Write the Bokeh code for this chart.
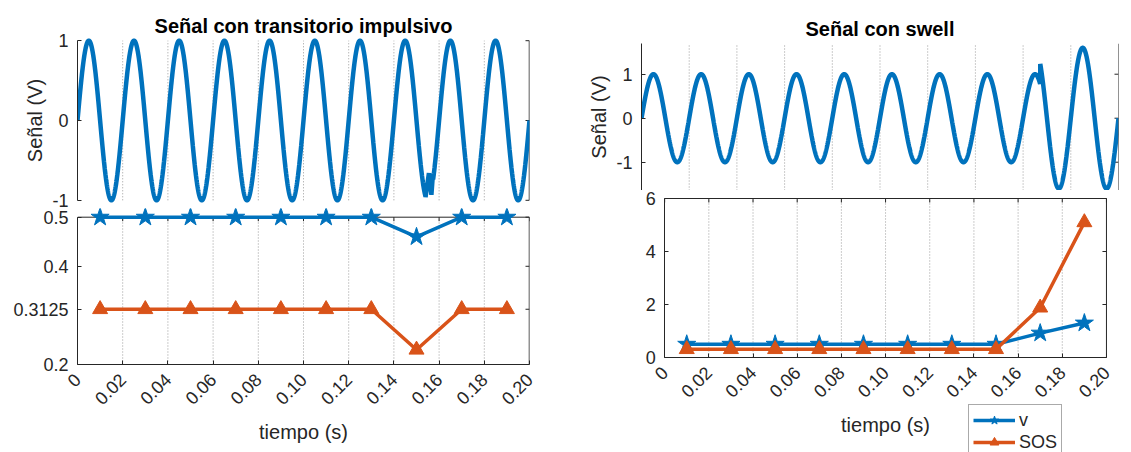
import math
import numpy as np
from bokeh.plotting import figure
from bokeh.layouts import row, column
from bokeh.models import Range1d, FixedTicker, Span, Legend, LegendItem
from bokeh.embed import file_html
from bokeh.resources import INLINE

# ---------------- data ----------------
tick_vals = [0.0, 0.02, 0.04, 0.06, 0.08, 0.10, 0.12, 0.14, 0.16, 0.18, 0.20]
tick_labels = ["0", "0.02", "0.04", "0.06", "0.08", "0.10", "0.12", "0.14", "0.16", "0.18", "0.20"]

t_win = [0.01, 0.03, 0.05, 0.07, 0.09, 0.11, 0.13, 0.15, 0.17, 0.19]
v_imp = [0.5, 0.5, 0.5, 0.5, 0.5, 0.5, 0.5, 0.46, 0.5, 0.5]
sos_imp = [0.3125, 0.3125, 0.3125, 0.3125, 0.3125, 0.3125, 0.3125, 0.23, 0.3125, 0.3125]
v_swell = [0.5, 0.5, 0.5, 0.5, 0.5, 0.5, 0.5, 0.5, 0.92, 1.30]
sos_swell = [0.3125, 0.3125, 0.3125, 0.3125, 0.3125, 0.3125, 0.3125, 0.3125, 1.88, 5.10]

imp_yticks = [0.2, 0.3125, 0.4, 0.5]
imp_ylabels = ["0.2", "0.3125", "0.4", "0.5"]
swell_yticks = [0, 2, 4, 6]
swell_ylabels = ["0", "2", "4", "6"]
sig_yticks = [-1, 0, 1]
sig_ylabels = ["-1", "0", "1"]

# signal model: 50 Hz sine, amplitude 1
signal_freq = 50.0
signal_amp = 1.0
imp_transient_t = [0.1540, 0.1555, 0.1566, 0.1573]
imp_transient_v = [-0.96, -0.66, -0.93, -0.66]
swell_start = 0.1672
swell_amp = 1.6

# ---------------- build signals ----------------
t = np.linspace(0.0, 0.2, 4001)
base = signal_amp * np.sin(2 * np.pi * signal_freq * t)
pre = t < imp_transient_t[0]
post = t > imp_transient_t[-1]
t_imp = np.concatenate([t[pre], imp_transient_t, t[post]])
s_imp = np.concatenate([base[pre], imp_transient_v, base[post]])
s_swell = np.where(t < swell_start, signal_amp, swell_amp) * np.sin(2 * np.pi * signal_freq * t)

# ---------------- styles ----------------
FONT = "Liberation Sans"
AX = "#262626"
GRID = "#9a9a9a"
BLUE = "#0072BD"
ORANGE = "#D95319"
TICK_FS = "18px"
LAB_FS = "20px"


def style_axis(ax, ticks, labels, bounds=None):
    ax.ticker = FixedTicker(ticks=ticks)
    ax.major_label_overrides = {v: l for v, l in zip(ticks, labels)}
    ax.minor_tick_line_color = None
    ax.major_tick_in = 4
    ax.major_tick_out = 0
    ax.axis_line_color = AX
    ax.major_tick_line_color = AX
    ax.major_label_text_font = FONT
    ax.major_label_text_color = AX
    ax.major_label_text_font_size = TICK_FS
    ax.major_label_standoff = 9
    ax.axis_label_text_font = FONT
    ax.axis_label_text_font_style = "normal"
    ax.axis_label_text_font_size = LAB_FS
    ax.axis_label_text_color = AX
    if bounds is not None:
        ax.bounds = bounds


def make_fig(w, h, xr, yr, bl, br, bt, bb, xaxis=False):
    p = figure(width=w, height=h, x_range=Range1d(*xr), y_range=Range1d(*yr),
               output_backend="svg", toolbar_location=None,
               x_axis_location="below" if xaxis else None,
               min_border_left=bl, min_border_right=br, min_border_top=bt, min_border_bottom=bb)
    p.outline_line_color = None
    p.xgrid.visible = False
    p.ygrid.visible = False
    p.background_fill_color = "white"
    p.border_fill_color = "white"
    return p


def add_xaxis(p):
    ax = p.xaxis[0]
    style_axis(ax, tick_vals, tick_labels, bounds=(tick_vals[0], tick_vals[-1]))
    ax.major_label_orientation = math.pi / 4
    ax.major_label_standoff = 12
    ax.axis_label = "tiempo (s)"
    ax.axis_label_standoff = 8


def add_title(p, text, standoff):
    p.title.text = text
    p.title.align = "center"
    p.title.text_font = FONT
    p.title.text_font_size = "20px"
    p.title.text_font_style = "bold"
    p.title.text_color = "black"
    p.title.standoff = standoff


def grid_segments(p, y0, y1):
    xs = tick_vals[1:-1]
    p.segment(x0=xs, y0=[y0] * len(xs), x1=xs, y1=[y1] * len(xs),
              line_color=GRID, line_width=1, line_dash="1 2")


def right_side(p, ticks, lw=1.5):
    # right box edge with inward tick marks (Matlab box on)
    n = len(ticks)
    p.segment(x0=[tick_vals[-1]], y0=[min(ticks)], x1=[tick_vals[-1]], y1=[max(ticks)],
              line_color=AX, line_width=lw)
    p.ray(x=[tick_vals[-1]] * n, y=ticks, length=4, length_units="screen",
          angle=math.pi, line_color=AX, line_width=1)


def top_edge(p, ytop):
    n = len(tick_vals)
    p.segment(x0=[tick_vals[0]], y0=[ytop], x1=[tick_vals[-1]], y1=[ytop], line_color=AX, line_width=1)
    p.ray(x=tick_vals, y=[ytop] * n, length=4, length_units="screen",
          angle=-math.pi / 2, line_color=AX, line_width=1)


XR = (0.0, 0.2)

# ---------------- left top ----------------
lt = make_fig(549, 208, XR, (-1.04, 1.04), 77, 20, 37, 5)
add_title(lt, "Señal con transitorio impulsivo", 1)
style_axis(lt.yaxis[0], sig_yticks, sig_ylabels, bounds=(-1, 1))
lt.yaxis[0].axis_label = "Señal (V)"
lt.yaxis[0].axis_label_standoff = 3
grid_segments(lt, -1, 1)
right_side(lt, sig_yticks)
lt.line(t_imp, s_imp, line_color=BLUE, line_width=4.5)

# ---------------- left bottom ----------------
lb = make_fig(549, 244, XR, (0.2, 0.5177), 77, 20, 0, 88, xaxis=True)
style_axis(lb.yaxis[0], imp_yticks, imp_ylabels, bounds=(0.2, 0.5))
add_xaxis(lb)
grid_segments(lb, 0.2, 0.5)
right_side(lb, imp_yticks)
top_edge(lb, 0.5)
lb.line(t_win, v_imp, line_color=BLUE, line_width=3.5)
lb.scatter(t_win, v_imp, marker="star", size=19, fill_color=BLUE, line_color=BLUE)
lb.line(t_win, sos_imp, line_color=ORANGE, line_width=3.5)
lb.scatter(t_win, sos_imp, marker="triangle", size=15, fill_color=ORANGE, line_color=ORANGE)

# ---------------- right top ----------------
rt = make_fig(582, 190, XR, (-1.643, 1.698), 92, 13, 43, 0)
add_title(rt, "Señal con swell", 8)
style_axis(rt.yaxis[0], sig_yticks, sig_ylabels)
rt.yaxis[0].axis_label = "Señal (V)"
rt.yaxis[0].axis_label_standoff = 3
grid_segments(rt, -1.643, 1.698)
rt.add_layout(Span(location=0.2, dimension="height", line_color=AX, line_width=1))
rt.ray(x=[0.2] * 3, y=sig_yticks, length=4, length_units="screen", angle=math.pi,
       line_color=AX, line_width=1)
rt.line(t, s_swell, line_color=BLUE, line_width=4.5)

# ---------------- right bottom (axes drawn at fixed locations inside a larger frame,
# so that the legend below the x axis is inside the frame) ----------------
rb = make_fig(582, 262, (-0.010482, 0.205451), (-3.585, 6.302), 67, 0, 0, 0, xaxis=True)
style_axis(rb.yaxis[0], swell_yticks, swell_ylabels, bounds=(0, 6))
rb.yaxis[0].fixed_location = 0
add_xaxis(rb)
rb.xaxis[0].fixed_location = 0
grid_segments(rb, 0, 6)
right_side(rb, swell_yticks, lw=1)
top_edge(rb, 6)
l1 = rb.line(t_win, v_swell, line_color=BLUE, line_width=3.5)
m1 = rb.scatter(t_win, v_swell, marker="star", size=19, fill_color=BLUE, line_color=BLUE)
l2 = rb.line(t_win, sos_swell, line_color=ORANGE, line_width=3.5)
m2 = rb.scatter(t_win, sos_swell, marker="triangle", size=15, fill_color=ORANGE, line_color=ORANGE)

legend = Legend(items=[LegendItem(label="v", renderers=[l1, m1]),
                       LegendItem(label="SOS", renderers=[l2, m2])],
                location=(327, -6))
legend.label_text_font = FONT
legend.label_text_font_size = "18px"
legend.label_text_color = AX
legend.glyph_width = 42
legend.glyph_height = 22
legend.label_height = 20
legend.spacing = 0
legend.padding = 4
legend.margin = 0
legend.label_standoff = 4
legend.border_line_color = "#555555"
legend.border_line_width = 1
legend.background_fill_alpha = 1
rb.add_layout(legend, "center")

layout = row(column(lt, lb), column(rt, rb))
open("out.html", "w").write(file_html(layout, INLINE))
